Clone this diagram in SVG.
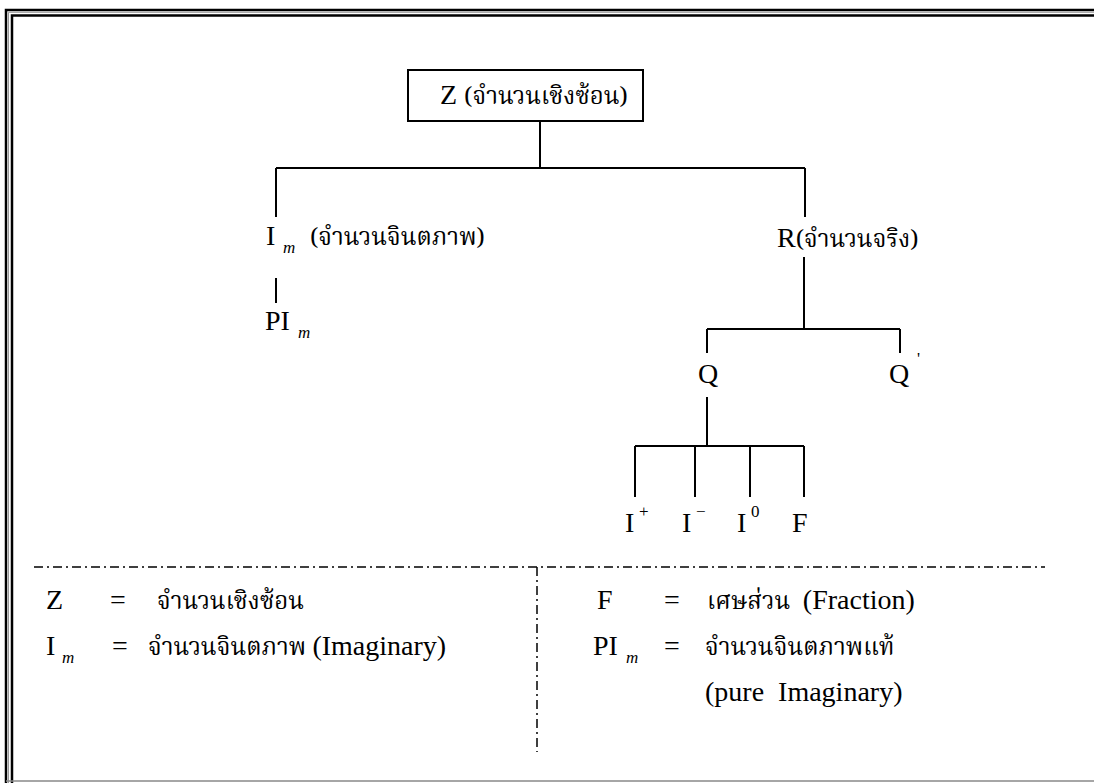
<svg xmlns="http://www.w3.org/2000/svg" width="1094" height="783" viewBox="0 0 1094 783">
<style>
.t{font-family:"Liberation Serif","Times New Roman",Times,"DejaVu Serif",serif;font-size:28px;fill:#000}
.th{font-family:"Norasi","Noto Serif Thai","Liberation Serif","Noto Sans Thai Looped","Loma",serif;font-size:24px;fill:#000}
.sub{font-family:"Liberation Serif","Times New Roman",serif;font-size:17px;font-style:italic;fill:#000}
.sup{font-family:"Liberation Serif","Times New Roman",serif;font-size:17px;fill:#000}
.ln{stroke:#000;stroke-width:2;fill:none}
.dd{stroke:#000;stroke-width:1.5;fill:none;stroke-dasharray:9 4 2 4}
</style>
<rect width="1094" height="783" fill="#fff"/>
<g id="frame" fill="none">
<path d="M6,783 V10 H1094" stroke="#000" stroke-width="2.5"/>
<path d="M8.5,783 V12.3 H1094" stroke="#999" stroke-width="1"/>
<path d="M12,783 V15.5 H1094" stroke="#000" stroke-width="2.5"/>
<path d="M6,781 H1094" stroke="#888" stroke-width="1.5"/>
</g>
<g id="connectors">
<path class="ln" d="M540,121 V168 M276,168 H805 M276,168 V217 M805,168 V217"/>
<path class="ln" d="M276,278 V303"/>
<path class="ln" d="M804,257 V329 M707,329 H900 M707,329 V353 M900,329 V353"/>
<path class="ln" d="M707,397 V446 M635,446 H804 M635,446 V497 M695,446 V497 M750,446 V497 M804,446 V497"/>
<path class="dd" d="M34,567 H1045"/>
<path class="dd" d="M537,567 V752"/>
</g>
<g id="node-Z">
<rect x="408" y="70" width="235" height="51" fill="none" stroke="#000" stroke-width="2"/>
<text x="440" y="104" class="t">Z <tspan class="th">(จำนวนเชิงซ้อน)</tspan></text>
</g>
<g id="node-Im">
<text x="266" y="245" class="t">I</text><text x="283" y="253" class="sub">m</text>
<text x="310" y="245" class="th">(จำนวนจินตภาพ)</text>
</g>
<g id="node-PIm">
<text x="265" y="330" class="t">PI</text><text x="298" y="338" class="sub">m</text>
</g>
<g id="node-R">
<text x="777" y="247" class="t">R<tspan class="th">(จำนวนจริง)</tspan></text>
</g>
<g id="node-Q">
<text x="698" y="383" class="t">Q</text>
</g>
<g id="node-Qp">
<text x="889" y="383" class="t">Q</text><text x="917" y="364" class="sup">'</text>
</g>
<g id="node-Ip">
<text x="625" y="532" class="t">I</text><text x="639" y="517" class="sup">+</text>
</g>
<g id="node-In">
<text x="682" y="532" class="t">I</text><text x="696" y="517" class="sup">−</text>
</g>
<g id="node-I0">
<text x="737" y="532" class="t">I</text><text x="751" y="517" class="sup">0</text>
</g>
<g id="node-F">
<text x="792" y="532" class="t">F</text>
</g>
<g id="legend">
<text x="46" y="609" class="t">Z</text><text x="110" y="609" class="t">=</text><text x="157" y="609" class="th">จำนวนเชิงซ้อน</text>
<text x="46" y="655" class="t">I</text><text x="62" y="663" class="sub">m</text><text x="112" y="655" class="t">=</text><text x="148" y="655" class="th">จำนวนจินตภาพ <tspan class="t">(Imaginary)</tspan></text>
<text x="597" y="609" class="t">F</text><text x="664" y="609" class="t">=</text><text x="707" y="609" class="th" xml:space="preserve">เศษส่วน  <tspan class="t">(Fraction)</tspan></text>
<text x="593" y="655" class="t">PI</text><text x="626" y="663" class="sub">m</text><text x="664" y="655" class="t">=</text><text x="705" y="655" class="th">จำนวนจินตภาพแท้</text>
<text x="705" y="701" class="t" xml:space="preserve">(pure  Imaginary)</text>
</g>
</svg>
